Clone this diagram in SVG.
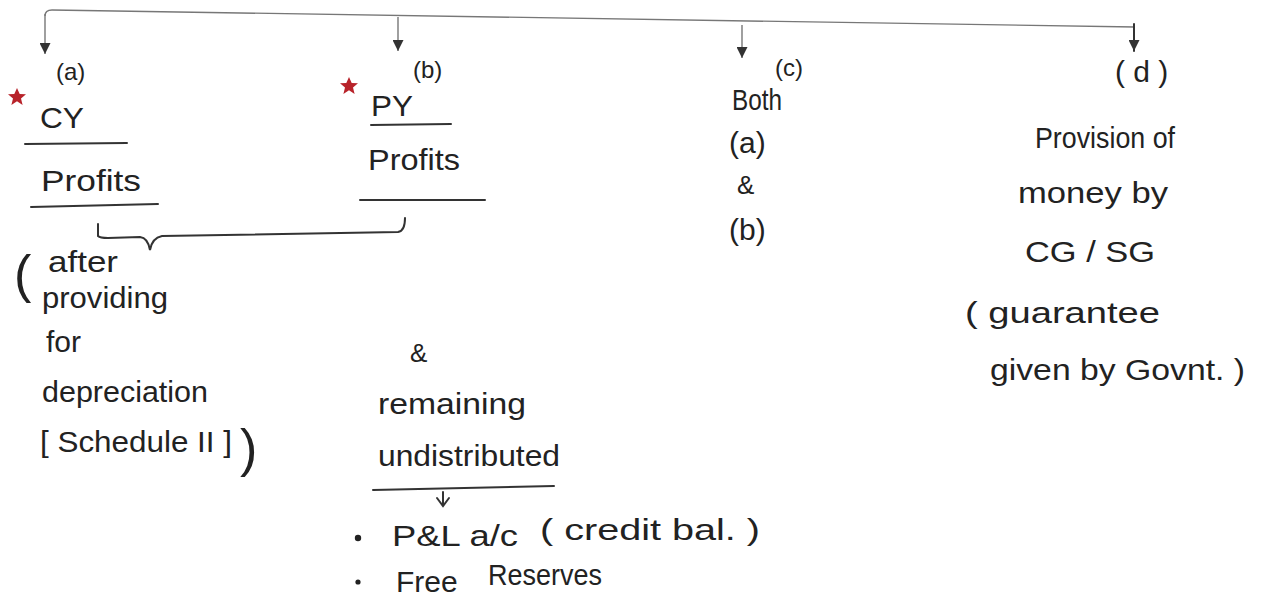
<svg xmlns="http://www.w3.org/2000/svg" width="1264" height="608" viewBox="0 0 1264 608">
  <style>
    .t { font-family: "Liberation Sans", "DejaVu Sans", sans-serif; font-size: 30px; fill: #222; }
    .s { font-size: 24px; }
    .amp { font-size: 26px; }
    .big { font-size: 52px; font-weight: 300; }
    .ln { stroke: #333; stroke-width: 2; fill: none; stroke-linecap: round; }
    .thin { stroke: #777; stroke-width: 1.4; fill: none; }
    .star { fill: #b8232a; }
  </style>
  <defs>
    <marker id="tri" viewBox="0 0 10 10" refX="10" refY="5" markerWidth="11" markerHeight="11" markerUnits="userSpaceOnUse" orient="auto">
      <path d="M0,0 L10,5 L0,10 z" fill="#333"/>
    </marker>
    <path id="starShape" d="M0,-9 L2.7,-3 L9,-2.7 L4,1.4 L5.6,8 L0,4.3 L-5.6,8 L-4,1.4 L-9,-2.7 L-2.7,-3 z"/>
  </defs>
  <rect width="1264" height="608" fill="#ffffff"/>

  <!-- branching connector along the top -->
  <g id="connectors">
    <path class="thin" d="M45,16 Q45,10 52,10 L1135,27"/>
    <path class="thin" d="M45,14 L45,54" marker-end="url(#tri)"/>
    <path class="thin" d="M398,17 L398,51" marker-end="url(#tri)"/>
    <path class="thin" d="M742,25 L742,58" marker-end="url(#tri)"/>
    <path class="ln" d="M1134,24 L1134,51" marker-end="url(#tri)"/>
    <!-- brace joining CY and PY profits -->
    <path class="ln" d="M98,224 L98,236 Q100,238 108,238 L140,237 Q148,238 150,250 Q152,238 162,236 L398,232 Q405,231 405,218"/>
    <!-- small arrow under undistributed -->
    <path class="ln" d="M443,492 L443,504 M437,498 L443,506 L449,498"/>
  </g>

  <g id="node-a">
    <use href="#starShape" class="star" x="17" y="97"/>
    <text class="t s" x="56" y="80">(a)</text>
    <text class="t" x="40" y="128" textLength="44" lengthAdjust="spacingAndGlyphs">CY</text>
    <path class="ln" d="M25,144 L127,143"/>
    <text class="t" x="41" y="191" textLength="100" lengthAdjust="spacingAndGlyphs">Profits</text>
    <path class="ln" d="M31,207 L158,204"/>
  </g>

  <g id="node-b">
    <use href="#starShape" class="star" x="349" y="86"/>
    <text class="t s" x="413" y="78">(b)</text>
    <text class="t" x="371" y="116" textLength="42" lengthAdjust="spacingAndGlyphs">PY</text>
    <path class="ln" d="M371,125 L451,124"/>
    <text class="t" x="368" y="170" textLength="92" lengthAdjust="spacingAndGlyphs">Profits</text>
    <path class="ln" d="M360,200 L485,200"/>
  </g>

  <g id="note-depreciation">
    <text class="t big" x="14" y="292">(</text>
    <text class="t" x="48" y="272" textLength="70" lengthAdjust="spacingAndGlyphs">after</text>
    <text class="t" x="42" y="308" textLength="126" lengthAdjust="spacingAndGlyphs">providing</text>
    <text class="t" x="46" y="352">for</text>
    <text class="t" x="42" y="402" textLength="166" lengthAdjust="spacingAndGlyphs">depreciation</text>
    <text class="t" x="40" y="452" textLength="192" lengthAdjust="spacingAndGlyphs">[ Schedule II ]</text>
    <text class="t big" x="240" y="466">)</text>
  </g>

  <g id="note-undistributed">
    <text class="t amp" x="410" y="362">&amp;</text>
    <text class="t" x="378" y="414" textLength="148" lengthAdjust="spacingAndGlyphs">remaining</text>
    <text class="t" x="378" y="466" textLength="182" lengthAdjust="spacingAndGlyphs">undistributed</text>
    <path class="ln" d="M373,490 L554,486"/>
    <circle cx="358" cy="538" r="3.2" fill="#222"/>
    <text class="t" x="392" y="546" textLength="126" lengthAdjust="spacingAndGlyphs">P&amp;L a/c</text>
    <text class="t" x="540" y="540" textLength="220" lengthAdjust="spacingAndGlyphs">( credit bal. )</text>
    <circle cx="358" cy="582" r="2.6" fill="#222"/>
    <text class="t" x="396" y="592">Free</text>
    <text class="t" x="488" y="585" textLength="114" lengthAdjust="spacingAndGlyphs">Reserves</text>
  </g>

  <g id="node-c">
    <text class="t s" x="775" y="76">(c)</text>
    <text class="t" x="732" y="110" textLength="50" lengthAdjust="spacingAndGlyphs">Both</text>
    <text class="t" x="729" y="153">(a)</text>
    <text class="t amp" x="737" y="194">&amp;</text>
    <text class="t" x="729" y="240">(b)</text>
  </g>

  <g id="node-d">
    <text class="t" x="1115" y="82">( d )</text>
    <text class="t" x="1035" y="148" textLength="140" lengthAdjust="spacingAndGlyphs">Provision of</text>
    <text class="t" x="1018" y="203" textLength="150" lengthAdjust="spacingAndGlyphs">money by</text>
    <text class="t" x="1025" y="262" textLength="130" lengthAdjust="spacingAndGlyphs">CG / SG</text>
    <text class="t" x="965" y="323" textLength="195" lengthAdjust="spacingAndGlyphs">( guarantee</text>
    <text class="t" x="990" y="380" textLength="255" lengthAdjust="spacingAndGlyphs">given by Govnt. )</text>
  </g>
</svg>
